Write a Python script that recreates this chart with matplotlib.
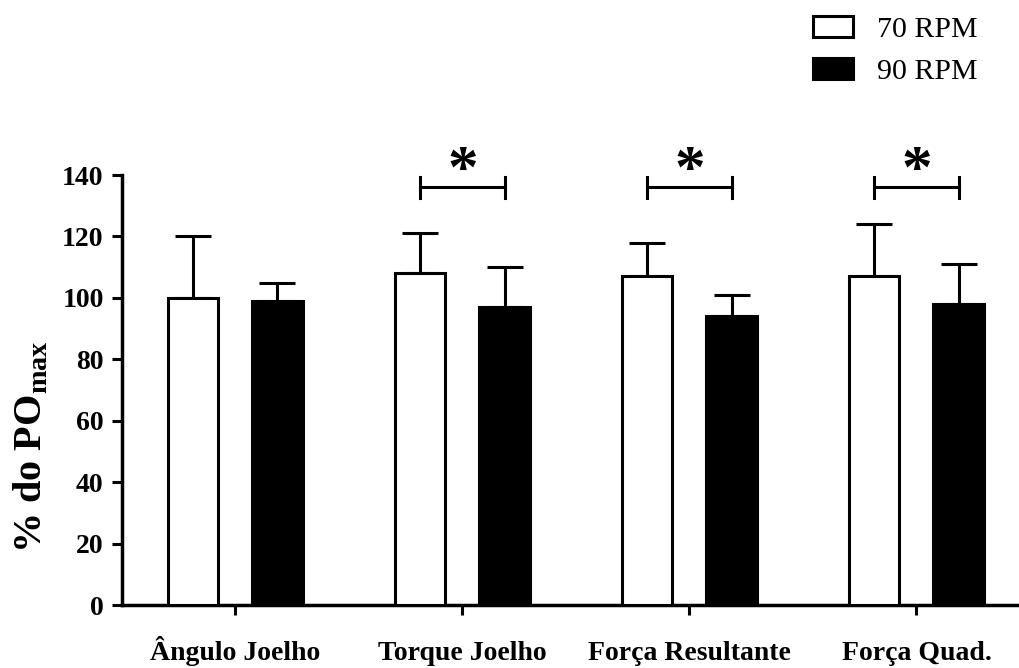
import matplotlib
matplotlib.use("Agg")
import matplotlib.pyplot as plt
from matplotlib.patches import Patch
import numpy as np

categories = ["Ângulo Joelho", "Torque Joelho", "Força Resultante", "Força Quad."]
series_names = ["70 RPM", "90 RPM"]
mean_70 = [100, 108, 107, 107]
sd_70 = [20, 13, 11, 17]
mean_90 = [99, 97, 94, 98]
sd_90 = [6, 13, 7, 13]
sig_groups = [1, 2, 3]
yticks = [0, 20, 40, 60, 80, 100, 120, 140]

plt.rcParams['font.family'] = ['Liberation Serif', 'DejaVu Serif']
plt.rcParams['mathtext.fontset'] = 'custom'
plt.rcParams['mathtext.rm'] = 'Liberation Serif'
plt.rcParams['mathtext.bf'] = 'Liberation Serif:bold'

fig = plt.figure(figsize=(10.2, 6.68), dpi=100)
ax = fig.add_axes([0.1193, 0.0943, 0.8807, 0.6437])

x = np.arange(len(categories))
off = 0.186
w = 0.222
lw = 2.2

ax.bar(x - off, mean_70, width=w, color='white', edgecolor='black', linewidth=lw, zorder=3)
ax.bar(x + off, mean_90, width=w, color='black', edgecolor='black', linewidth=lw, zorder=3)
ax.errorbar(x - off, mean_70, yerr=[np.zeros(len(sd_70)), sd_70], fmt='none',
            ecolor='black', elinewidth=2.2, capsize=13, capthick=2.2, zorder=2)
ax.errorbar(x + off, mean_90, yerr=[np.zeros(len(sd_90)), sd_90], fmt='none',
            ecolor='black', elinewidth=2.2, capsize=13, capthick=2.2, zorder=2)

# significance brackets
yb = 136
for g in sig_groups:
    ax.plot([g - off, g + off], [yb, yb], color='black', lw=2.2, clip_on=False)
    ax.plot([g - off, g - off], [yb - 3.5, yb + 3.5], color='black', lw=2.2, clip_on=False)
    ax.plot([g + off, g + off], [yb - 3.5, yb + 3.5], color='black', lw=2.2, clip_on=False)
    ax.text(g, 136, '*', ha='center', va='baseline', fontsize=44, fontweight='bold',
            clip_on=False)

ax.set_xlim(-0.5, 3.456)
ax.set_ylim(0, 140)
ax.set_yticks(yticks)
ax.set_xticks(x)
ax.set_xticklabels(categories)

for s in ['top', 'right']:
    ax.spines[s].set_visible(False)
for s in ['left', 'bottom']:
    ax.spines[s].set_linewidth(2.5)

ax.tick_params(axis='y', length=7, width=2.2, pad=6, labelsize=20)
ax.tick_params(axis='x', length=7, width=2.2, pad=32.5, labelsize=20)
for lab in ax.get_xticklabels() + ax.get_yticklabels():
    lab.set_fontweight('bold')
for lab in ax.get_xticklabels():
    lab.set_verticalalignment('baseline')

ax.set_ylabel(r'% do PO$_{\mathbf{max}}$', fontsize=29, fontweight='bold')
ax.yaxis.set_label_coords(-0.079, 0.367)

handles = [Patch(facecolor='white', edgecolor='black', linewidth=2.2),
           Patch(facecolor='black', edgecolor='black', linewidth=2.2)]
fig.legend(handles, series_names, loc='upper left', bbox_to_anchor=(813 / 1020, 1 - 16 / 668),
           frameon=False, fontsize=21.5, handlelength=1.33, handleheight=0.7,
           handletextpad=0.8, labelspacing=0.5, borderpad=0, borderaxespad=0)

fig.savefig('out.png', dpi=100)
